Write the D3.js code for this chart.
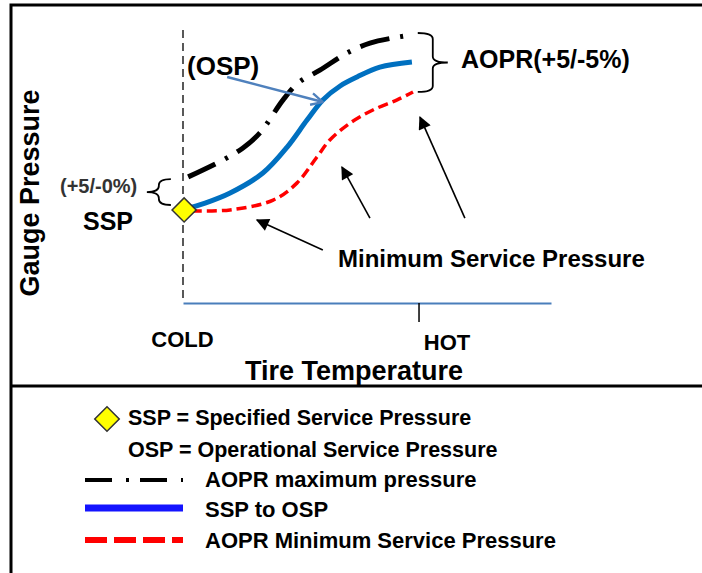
<!DOCTYPE html>
<html>
<head>
<meta charset="utf-8">
<script src="https://cdn.jsdelivr.net/npm/d3@7"></script>
<style>
  html, body { margin: 0; padding: 0; background: #fff; }
  svg { display: block; font-family: 'Liberation Sans', Arial, sans-serif; font-weight: bold; }
</style>
</head>
<body>
<svg id="chart" width="702" height="573"></svg>
<script>
// temperature axis (0 = cold reference, 100 = end of axis)
const tempTicks = [0, 64]
const tempLabels = ['COLD', 'HOT']

// AOPR maximum pressure (black dash-dot)
const maxTemp = [1.4, 10.9, 16.3, 20.9, 27.2, 31.3, 37.2, 44.6, 50.8, 57.1, 62.2]
const maxPressure = [46.2, 52.4, 56.8, 62.3, 74.4, 80.6, 85.3, 91.6, 95.2, 97.1, 98.2]

// SSP to OSP (blue)
const ospTemp = [0.5, 6.0, 12.8, 21.7, 28.3, 33.7, 38.0, 42.7, 47.3, 53.5, 62.2]
const ospPressure = [34.4, 36.6, 40.3, 47.6, 57.1, 67.0, 74.4, 79.5, 82.8, 86.4, 88.3]

// AOPR minimum service pressure (red dashed)
const minTemp = [2.4, 12.8, 24.5, 31.0, 36.4, 39.9, 45.4, 51.6, 58.2, 62.5]
const minPressure = [33.7, 34.1, 37.7, 44.0, 53.5, 59.7, 65.9, 70.7, 74.4, 77.3]

// specified service pressure point
const sspPoint = [0.3, 34.1]

const legendLabels = [
  'SSP = Specified Service Pressure',
  'OSP = Operational Service Pressure',
  'AOPR maximum pressure',
  'SSP to OSP',
  'AOPR Minimum Service Pressure'
]

const svg = d3.select('#chart')

const x = d3.scaleLinear().domain([0, 100]).range([183, 551])
const y = d3.scaleLinear().domain([0, 100]).range([303, 30])

const defs = svg.append('defs')
defs.append('marker')
  .attr('id', 'arrow-black')
  .attr('viewBox', '0 0 10 10')
  .attr('refX', 9)
  .attr('refY', 5)
  .attr('markerUnits', 'userSpaceOnUse')
  .attr('markerWidth', 15)
  .attr('markerHeight', 13)
  .attr('orient', 'auto')
  .append('path')
  .attr('d', 'M0,0 L10,5 L0,10 Z')
  .attr('fill', '#000')

defs.append('marker')
  .attr('id', 'arrow-open')
  .attr('viewBox', '0 0 12 12')
  .attr('refX', 11)
  .attr('refY', 6)
  .attr('markerUnits', 'userSpaceOnUse')
  .attr('markerWidth', 14)
  .attr('markerHeight', 14)
  .attr('orient', 'auto')
  .append('path')
  .attr('d', 'M1,1 L11,6 L1,11')
  .attr('fill', 'none')
  .attr('stroke', '#4f81bd')
  .attr('stroke-width', 2)

// frame
svg.append('path')
  .attr('d', 'M11,573 L11,5 L702,5 M11,386 L702,386')
  .attr('fill', 'none')
  .attr('stroke', '#000')
  .attr('stroke-width', 3)

// dashed pressure axis at cold
svg.append('line')
  .attr('x1', x(0)).attr('x2', x(0))
  .attr('y1', y(100)).attr('y2', y(0))
  .attr('stroke', '#000')
  .attr('stroke-width', 1.3)
  .attr('stroke-dasharray', '8,5')

// temperature axis
const xAxis = d3.axisBottom(x)
  .tickValues(tempTicks)
  .tickFormat((d, i) => tempLabels[i])
  .tickSize(19)
  .tickSizeOuter(0)

const axisGroup = svg.append('g')
  .attr('transform', `translate(0, ${y(0)})`)
  .call(xAxis)

axisGroup.select('.domain')
  .attr('stroke', '#4a7ebb')
  .attr('stroke-width', 1.8)
axisGroup.selectAll('.tick line')
  .attr('stroke', '#000')
  .attr('stroke-width', 1.5)
  .attr('opacity', (d, i) => i === 0 ? 0 : 1)
axisGroup.selectAll('.tick text')
  .attr('fill', '#000')
  .attr('font-size', 22)
  .attr('font-family', 'Liberation Sans, Arial, sans-serif')
  .attr('font-weight', 'bold')
  .attr('dy', null)
  .attr('y', (d, i) => i === 0 ? 44 : 47)
  .attr('x', (d, i) => i === 0 ? -1 : 28)

svg.append('text')
  .attr('x', 354)
  .attr('y', 380)
  .attr('text-anchor', 'middle')
  .attr('font-size', 27)
  .text('Tire Temperature')

svg.append('text')
  .attr('transform', 'translate(39, 193) rotate(-90)')
  .attr('text-anchor', 'middle')
  .attr('font-size', 27)
  .text('Gauge Pressure')

// curves
const toPoints = (xs, ys) => xs.map((d, i) => [d, ys[i]])
const line = d3.line()
  .x(d => x(d[0]))
  .y(d => y(d[1]))
  .curve(d3.curveCatmullRom.alpha(0.5))

svg.append('path')
  .attr('d', line(toPoints(maxTemp, maxPressure)))
  .attr('fill', 'none')
  .attr('stroke', '#000')
  .attr('stroke-width', 5)
  .attr('stroke-dasharray', '30,11,3,11')

svg.append('path')
  .attr('d', line(toPoints(minTemp, minPressure)))
  .attr('fill', 'none')
  .attr('stroke', '#ff0000')
  .attr('stroke-width', 3.5)
  .attr('stroke-dasharray', '10,5')

svg.append('path')
  .attr('d', line(toPoints(ospTemp, ospPressure)))
  .attr('fill', 'none')
  .attr('stroke', '#0070c0')
  .attr('stroke-width', 5)

const diamond = d3.symbol(d3.symbolSquare, 290)

svg.append('path')
  .attr('d', diamond())
  .attr('transform', `translate(${x(sspPoint[0])}, ${y(sspPoint[1])}) rotate(45)`)
  .attr('fill', '#ffff00')
  .attr('stroke', '#333')
  .attr('stroke-width', 1.5)

// braces
function bracePath (x0, yTop, yBot, w, dir) {
  const xm = x0 + dir * w / 2
  const tip = x0 + dir * w
  const ymid = (yTop + yBot) / 2
  const r = Math.min(6, (yBot - yTop) / 4)
  return `M${x0},${yTop} Q${xm},${yTop} ${xm},${yTop + r} L${xm},${ymid - r} ` +
    `Q${xm},${ymid} ${tip},${ymid} Q${xm},${ymid} ${xm},${ymid + r} ` +
    `L${xm},${yBot - r} Q${xm},${yBot} ${x0},${yBot}`
}

svg.append('path')
  .attr('d', bracePath(x(63.8), y(98.9), y(77.3), 30, 1))
  .attr('fill', 'none')
  .attr('stroke', '#000')
  .attr('stroke-width', 1.8)

svg.append('path')
  .attr('d', bracePath(x(-3.3), y(45.4), y(35.9), 24, -1))
  .attr('fill', 'none')
  .attr('stroke', '#000')
  .attr('stroke-width', 1.8)

// annotation arrows
svg.append('line')
  .attr('x1', x(12)).attr('y1', y(82.8))
  .attr('x2', x(38)).attr('y2', y(73.6))
  .attr('stroke', '#4f81bd')
  .attr('stroke-width', 2.5)
  .attr('marker-end', 'url(#arrow-open)')

const blackArrows = [
  [[38.0, 19.4], [20.1, 30.4]],
  [[50.8, 31.1], [43.2, 49.8]],
  [[76.6, 31.1], [64.4, 68.1]]
]

svg.selectAll('line.pointer')
  .data(blackArrows)
  .enter()
  .append('line')
  .attr('class', 'pointer')
  .attr('x1', d => x(d[0][0])).attr('y1', d => y(d[0][1]))
  .attr('x2', d => x(d[1][0])).attr('y2', d => y(d[1][1]))
  .attr('stroke', '#000')
  .attr('stroke-width', 1.6)
  .attr('marker-end', 'url(#arrow-black)')

// annotation labels
const notes = [
  { text: '(OSP)', x: 187, y: 75, size: 26 },
  { text: 'AOPR(+5/-5%)', x: 461, y: 68, size: 25 },
  { text: '(+5/-0%)', x: 60, y: 193, size: 20, fill: '#333' },
  { text: 'SSP', x: 83, y: 230, size: 25 },
  { text: 'Minimum Service Pressure', x: 338, y: 267, size: 24 }
]

svg.selectAll('text.note')
  .data(notes)
  .enter()
  .append('text')
  .attr('class', 'note')
  .attr('x', d => d.x)
  .attr('y', d => d.y)
  .attr('font-size', d => d.size)
  .attr('fill', d => d.fill || '#000')
  .text(d => d.text)

// legend
const legend = svg.append('g')

legend.append('path')
  .attr('d', d3.symbol(d3.symbolSquare, 300)())
  .attr('transform', 'translate(107, 419) rotate(45)')
  .attr('fill', '#ffff00')
  .attr('stroke', '#333')
  .attr('stroke-width', 1.5)

const legendLines = [
  { y: 480, stroke: '#000', width: 4, dash: '27,14,3,11' },
  { y: 508, stroke: '#1414ff', width: 7, dash: null },
  { y: 540, stroke: '#ff0000', width: 6, dash: '22,7' }
]

legend.selectAll('line')
  .data(legendLines)
  .enter()
  .append('line')
  .attr('x1', 85).attr('x2', 183)
  .attr('y1', d => d.y).attr('y2', d => d.y)
  .attr('stroke', d => d.stroke)
  .attr('stroke-width', d => d.width)
  .attr('stroke-dasharray', d => d.dash)

const legendTextPos = [[128, 425], [128, 457], [205, 487], [205, 517], [205, 548]]

legend.selectAll('text')
  .data(legendLabels)
  .enter()
  .append('text')
  .attr('x', (d, i) => legendTextPos[i][0])
  .attr('y', (d, i) => legendTextPos[i][1])
  .attr('font-size', (d, i) => i < 2 ? 21.5 : 22)
  .text(d => d)
</script>
</body>
</html>
